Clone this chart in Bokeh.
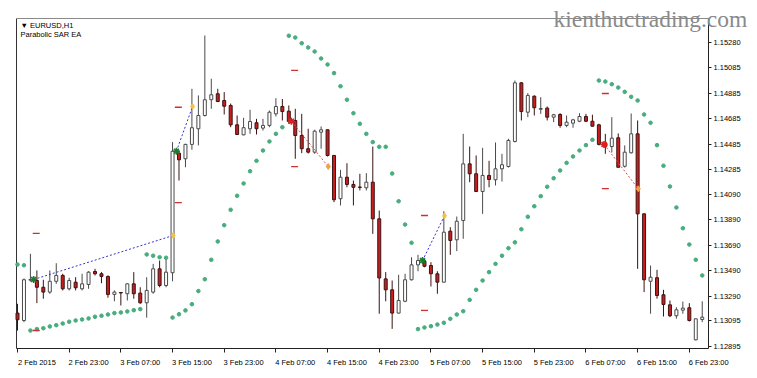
from bokeh.plotting import figure
from bokeh.models import (ColumnDataSource, FixedTicker, Range1d, Label,
                          PrintfTickFormatter)
from bokeh.embed import file_html
from bokeh.resources import INLINE

# ---------------- data (EURUSD H1) ----------------
opens = [1.13156, 1.13098, 1.13415, 1.13412, 1.13359, 1.13321, 1.13406, 1.13452, 1.13347, 1.13399,
         1.13347, 1.13381, 1.13483, 1.13465, 1.13444, 1.13303, 1.13318, 1.13308, 1.13386, 1.13313,
         1.13237, 1.13321, 1.13504, 1.13373, 1.13473, 1.14413, 1.14369, 1.14482, 1.14605, 1.14709,
         1.14833, 1.14880, 1.14827, 1.14788, 1.14636, 1.14557, 1.14605, 1.14652, 1.14610, 1.14631,
         1.14722, 1.14780, 1.14743, 1.14670, 1.14552, 1.14448, 1.14421, 1.14578, 1.14597, 1.14395,
         1.14055, 1.14224, 1.14167, 1.14147, 1.14141, 1.14185, 1.13897, 1.13425, 1.13339, 1.13156,
         1.13249, 1.13418, 1.13535, 1.13564, 1.13530, 1.13465, 1.13399, 1.13800, 1.13732, 1.13884,
         1.14329, 1.14251, 1.14112, 1.14238, 1.14204, 1.14290, 1.14308, 1.14505, 1.14966, 1.14735,
         1.14861, 1.14758, 1.14767, 1.14696, 1.14717, 1.14631, 1.14649, 1.14664, 1.14701, 1.14664,
         1.14636, 1.14489, 1.14465, 1.14534, 1.14310, 1.14416, 1.14565, 1.13936, 1.13406, 1.13434,
         1.13300, 1.13221, 1.13135, 1.13179, 1.13198, 1.12946, 1.13106]
highs = [1.13229, 1.13428, 1.13622, 1.13491, 1.13418, 1.13491, 1.13548, 1.13465, 1.13434, 1.13438,
         1.13465, 1.13485, 1.13504, 1.13478, 1.13452, 1.13334, 1.13321, 1.13391, 1.13478, 1.13359,
         1.13438, 1.13543, 1.13569, 1.13583, 1.14500, 1.14434, 1.14487, 1.14919, 1.14867, 1.15338,
         1.14998, 1.14919, 1.14893, 1.14803, 1.14709, 1.14691, 1.14754, 1.14683, 1.14683, 1.14748,
         1.14845, 1.14839, 1.14788, 1.14762, 1.14722, 1.14605, 1.14597, 1.14623, 1.14599, 1.14399,
         1.14282, 1.14334, 1.14198, 1.14251, 1.14256, 1.14465, 1.13962, 1.13478, 1.13412, 1.13457,
         1.13465, 1.13595, 1.13614, 1.13583, 1.13556, 1.13485, 1.13957, 1.13831, 1.13915, 1.14565,
         1.14465, 1.14395, 1.14455, 1.14353, 1.14497, 1.14408, 1.14526, 1.14984, 1.14971, 1.14885,
         1.14867, 1.14853, 1.14780, 1.14722, 1.14727, 1.14709, 1.14683, 1.14727, 1.14722, 1.14715,
         1.14644, 1.14565, 1.14696, 1.14568, 1.14474, 1.14725, 1.14670, 1.13939, 1.13530, 1.13496,
         1.13339, 1.13255, 1.13202, 1.13247, 1.13234, 1.13113, 1.13249]
lows = [1.13019, 1.13085, 1.13404, 1.13234, 1.13269, 1.13308, 1.13386, 1.13334, 1.13334, 1.13334,
        1.13334, 1.13347, 1.13452, 1.13391, 1.13277, 1.13249, 1.13216, 1.13255, 1.13269, 1.13229,
        1.13120, 1.13308, 1.13359, 1.13359, 1.13406, 1.14198, 1.14302, 1.14440, 1.14474, 1.14701,
        1.14762, 1.14814, 1.14717, 1.14617, 1.14557, 1.14554, 1.14565, 1.14560, 1.14591, 1.14617,
        1.14701, 1.14670, 1.14644, 1.14369, 1.14413, 1.14410, 1.14408, 1.14448, 1.14387, 1.14028,
        1.14002, 1.14145, 1.14002, 1.14120, 1.14120, 1.13779, 1.13151, 1.13249, 1.13032, 1.13153,
        1.13242, 1.13412, 1.13485, 1.13516, 1.13365, 1.13308, 1.13397, 1.13614, 1.13643, 1.13740,
        1.14185, 1.14107, 1.13936, 1.14145, 1.14159, 1.14190, 1.14300, 1.14497, 1.14670, 1.14696,
        1.14709, 1.14722, 1.14670, 1.14657, 1.14613, 1.14617, 1.14613, 1.14657, 1.14657, 1.14623,
        1.14474, 1.14408, 1.14418, 1.14300, 1.14300, 1.14410, 1.13504, 1.13321, 1.13151, 1.13269,
        1.13129, 1.13124, 1.13112, 1.13151, 1.13090, 1.12941, 1.13085]
closes = [1.13104, 1.13418, 1.13420, 1.13359, 1.13321, 1.13406, 1.13452, 1.13347, 1.13412, 1.13355,
          1.13386, 1.13478, 1.13465, 1.13444, 1.13303, 1.13321, 1.13314, 1.13386, 1.13308, 1.13237,
          1.13334, 1.13504, 1.13373, 1.13478, 1.14428, 1.14361, 1.14482, 1.14613, 1.14709, 1.14833,
          1.14872, 1.14819, 1.14782, 1.14636, 1.14560, 1.14613, 1.14662, 1.14605, 1.14631, 1.14735,
          1.14780, 1.14740, 1.14662, 1.14552, 1.14448, 1.14421, 1.14586, 1.14597, 1.14395, 1.14047,
          1.14224, 1.14167, 1.14145, 1.14144, 1.14185, 1.13897, 1.13432, 1.13339, 1.13156, 1.13255,
          1.13418, 1.13535, 1.13569, 1.13524, 1.13465, 1.13399, 1.13792, 1.13727, 1.13878, 1.14329,
          1.14251, 1.14112, 1.14238, 1.14206, 1.14290, 1.14322, 1.14513, 1.14966, 1.14740, 1.14867,
          1.14770, 1.14764, 1.14696, 1.14715, 1.14631, 1.14657, 1.14675, 1.14701, 1.14664, 1.14625,
          1.14482, 1.14465, 1.14531, 1.14302, 1.14421, 1.14565, 1.13936, 1.13418, 1.13438, 1.13294,
          1.13224, 1.13135, 1.13182, 1.13195, 1.13098, 1.13111, 1.13124]
sar = [1.13538, 1.13532, 1.13019, 1.13030, 1.13037, 1.13051, 1.13061, 1.13074, 1.13088, 1.13098,
       1.13106, 1.13114, 1.13127, 1.13135, 1.13145, 1.13156, 1.13161, 1.13169, 1.13179, 1.13187,
       1.13617, 1.13607, 1.13595, 1.13591, 1.13121, 1.13147, 1.13177, 1.13226, 1.13329, 1.13422,
       1.13575, 1.13719, 1.13847, 1.13968, 1.14078, 1.14175, 1.14271, 1.14353, 1.14434, 1.14505,
       1.14565, 1.14617, 1.15336, 1.15322, 1.15277, 1.15244, 1.15212, 1.15157, 1.15110, 1.15042,
       1.14939, 1.14833, 1.14727, 1.14644, 1.14565, 1.14500, 1.14463, 1.14463, 1.14253, 1.14035,
       1.13852, 1.13709, 1.13030, 1.13043, 1.13053, 1.13066, 1.13080, 1.13111, 1.13145, 1.13171,
       1.13260, 1.13339, 1.13412, 1.13478, 1.13543, 1.13607, 1.13666, 1.13712, 1.13815, 1.13913,
       1.13996, 1.14075, 1.14149, 1.14216, 1.14277, 1.14337, 1.14387, 1.14434, 1.14476, 1.14518,
       1.14984, 1.14976, 1.14955, 1.14929, 1.14895, 1.14856, 1.14827, 1.14717, 1.14652, 1.14476,
       1.14314, 1.14151, 1.13986, 1.13823, 1.13695, 1.13575, 1.13452]

# trades of the EA (bar position, price)
trade_type = ["buy", "buy", "sell", "buy", "sell"]
trade_open_bar = [2.5, 24.6, 42.4, 62.7, 90.8]
trade_open_price = [1.13420, 1.14428, 1.14664, 1.13569, 1.14482]
trade_close_bar = [24.1, 27.1, 48.1, 66.1, 96.1]
trade_close_price = [1.13766, 1.14780, 1.14308, 1.13921, 1.14133]
level_bar = [2.9, 24.9, 42.9, 63.0, 91.0]
tp_price = [1.13782, 1.14774, 1.14308, 1.13923, 1.14135]
sl_price = [1.13019, 1.14025, 1.15063, 1.13177, 1.14882]

x_tick_bars = [0, 8, 16, 24, 32, 40, 48, 56, 64, 72, 80, 88, 96, 104]
x_tick_labels = ["2 Feb 2015", "2 Feb 23:00", "3 Feb 07:00", "3 Feb 15:00", "3 Feb 23:00",
                 "4 Feb 07:00", "4 Feb 15:00", "4 Feb 23:00", "5 Feb 07:00", "5 Feb 15:00",
                 "5 Feb 23:00", "6 Feb 07:00", "6 Feb 15:00", "6 Feb 23:00"]
y_tick_values = [1.15280, 1.15085, 1.14885, 1.14685, 1.14485, 1.14285, 1.14090,
                 1.13890, 1.13690, 1.13490, 1.13290, 1.13095, 1.12895]

# ---------------- layout constants ----------------
# chart box (price panel) in data units
XL, XR = -0.155, 106.97
YB, YT = 1.128777, 1.154715
# whole canvas in data units (frame covers the canvas; axes are pinned to the box)
CX0, CX1 = -2.632, 114.555
CY0, CY1 = 1.126419, 1.156130
LABEL_SHIFT = 3          # label centre sits ~3 bars right of its tick (MT4 style)
FONT = "Liberation Sans"

p = figure(width=757, height=378, output_backend="svg", toolbar_location=None,
           x_range=Range1d(CX0, CX1), y_range=Range1d(CY0, CY1),
           y_axis_location="right", min_border=0)
p.grid.visible = False
p.outline_line_color = None
p.background_fill_color = "white"
p.border_fill_color = "white"

# box border (left dark, top grey)
p.segment(x0=[XL], y0=[YB], x1=[XL], y1=[YT], line_color="#333333", line_width=1)
p.segment(x0=[XL], y0=[YT], x1=[XR], y1=[YT], line_color="#8a8a8a", line_width=1)

n = len(opens)
xs = list(range(n))
up = [c >= o for o, c in zip(opens, closes)]
src = ColumnDataSource(dict(
    x=xs, high=highs, low=lows,
    top=[max(o, c) for o, c in zip(opens, closes)],
    bottom=[min(o, c) for o, c in zip(opens, closes)],
    fill=["white" if u else "#c81e1e" for u in up],
    line=["#4a4a4a" if u else "#3a1212" for u in up],
))
p.segment("x", "high", "x", "low", source=src, line_color="line", line_width=1)
p.vbar(x="x", width=0.46, top="top", bottom="bottom", source=src,
       fill_color="fill", line_color="line", line_width=1)

# Parabolic SAR
p.scatter(xs, sar, marker="circle", size=3.6, fill_color="#47ad7e", line_color="#47ad7e")

# TP / SL levels
p.scatter(level_bar + level_bar, tp_price + sl_price, marker="dash", size=7,
          line_color="#d03030", line_width=1.3)

# trade lines and arrows
tsrc = ColumnDataSource(dict(
    x0=trade_open_bar, y0=trade_open_price, x1=trade_close_bar, y1=trade_close_price,
    c=["#3535c8" if t == "buy" else "#e04848" for t in trade_type],
    ec=["#1f7a2f" if t == "buy" else "#e02020" for t in trade_type],
    xc=["#f2c14e" if t == "buy" else "#f5a040" for t in trade_type]))
p.segment("x0", "y0", "x1", "y1", source=tsrc, line_color="c", line_width=1, line_dash="2 2")
p.scatter("x0", "y0", source=tsrc, marker="asterisk", size=7, line_color="ec", line_width=1.6)
p.scatter("x1", "y1", source=tsrc, marker="diamond", size=6, fill_color="xc", line_color="xc")

# price axis (right), pinned to the box edge
ya = p.yaxis[0]
ya.fixed_location = XR
ya.bounds = (YB, YT)
ya.ticker = FixedTicker(ticks=y_tick_values)
ya.formatter = PrintfTickFormatter(format="%.5f")
ya.major_tick_out = 3
ya.major_tick_in = 0
ya.minor_tick_line_color = None
ya.major_label_standoff = 2
ya.axis_line_color = "#222222"
ya.major_tick_line_color = "#222222"
ya.major_label_text_font = FONT
ya.major_label_text_font_size = "7.5px"
ya.major_label_text_color = "black"

# time axis (bottom), pinned to the box edge
xa = p.xaxis[0]
xa.fixed_location = YB
xa.bounds = (XL, XR)
label_pos = [b + LABEL_SHIFT for b in x_tick_bars]
xa.ticker = FixedTicker(ticks=label_pos, minor_ticks=x_tick_bars)
xa.major_label_overrides = {pos: lbl for pos, lbl in zip(label_pos, x_tick_labels)}
xa.major_tick_line_color = None
xa.minor_tick_line_color = "#222222"
xa.minor_tick_out = 4
xa.minor_tick_in = 0
xa.major_label_standoff = 3
xa.axis_line_color = "#222222"
xa.major_label_text_font = FONT
xa.major_label_text_font_size = "7.5px"
xa.major_label_text_color = "black"

# captions (screen units measured from the canvas bottom-left)
p.add_layout(Label(x=20, y=353.5, x_units="screen", y_units="screen", text="\u25bc EURUSD,H1",
                   text_font=FONT, text_font_size="7.5px", text_baseline="middle",
                   text_color="black"))
p.add_layout(Label(x=20, y=344, x_units="screen", y_units="screen", text="Parabolic SAR EA",
                   text_font=FONT, text_font_size="7.5px", text_baseline="middle",
                   text_color="black"))
p.add_layout(Label(x=553, y=359.5, x_units="screen", y_units="screen",
                   text="kienthuctrading.com", text_font="Liberation Serif",
                   text_font_size="23.5px", text_baseline="alphabetic",
                   text_color="#8a8a8a"))

open("out.html", "w").write(file_html(p, INLINE))
